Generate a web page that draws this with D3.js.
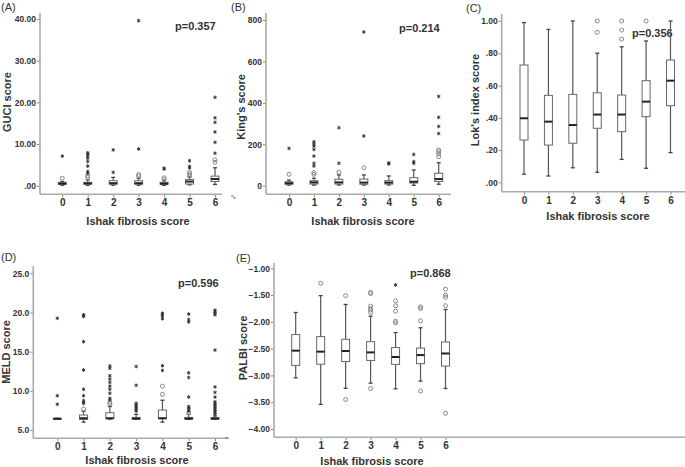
<!DOCTYPE html>
<html><head><meta charset="utf-8">
<script src="https://cdn.jsdelivr.net/npm/d3@7"></script>
<style>
body{margin:0;background:#fff;}
svg{display:block;}
</style></head>
<body><svg id="c" width="685" height="467"></svg>
<script>
const categories = ["0","1","2","3","4","5","6"];

// GUCI score: [lower whisker, Q1, median, Q3, upper whisker]
const guciBoxes = [
 [0.1,0.35,0.5,0.8,1.0],[0.1,0.35,0.55,0.8,1.4],[0.1,0.35,0.6,1.2,2.0],[0.1,0.35,0.6,1.2,1.8],
 [0.1,0.35,0.5,0.8,1.2],[0.2,0.4,1.0,1.5,2.1],[0.3,1.0,1.6,2.3,4.3]];
const guciCircles = [[1.8],[2.0,2.4],[],[2.3,2.7],[1.5,1.9],[2.4,2.8,3.2],[5.6,6.2]];
const guciStars = [[7.1],[7.9,7.6,7.2,6.6,5.8,4.7,3.4,3.0],[8.6,3.2],[39.6,8.8],[4.2,4.0],[6.0,4.6,4.3],[21.2,16.3,15.2,12.9,10.4,7.8]];
const guciTicks = [0,10,20,30,40];

// King's score
const kingBoxes = [
 [3,7,12,19,27],[3,8,16,24,36],[3,8,16,31,52],[3,7,15,32,52],
 [3,8,15,24,47],[2,13,19,39,76],[7,20,32,60,111]];
const kingCircles = [[55],[55,63],[65],[87],[],[],[140,153,164,172]];
const kingStars = [[180],[212,201,191,175,143,108,95],[280,108],[742,240],[110,105],[151,116,108],[431,330,286,252]];
const kingTicks = [0,200,400,600,800];

// Lok's index score
const lokBoxes = [
 [0.05,0.262,0.397,0.727,0.99],[0.039,0.231,0.376,0.539,0.948],[0.09,0.242,0.355,0.545,1.0],
 [0.062,0.335,0.42,0.555,0.80],[0.142,0.314,0.42,0.541,0.84],[0.087,0.407,0.5,0.63,0.876],
 [0.184,0.475,0.63,0.758,1.0]];
const lokCircles = [[],[],[],[1.0,0.93],[1.0,0.944,0.888],[1.0],[]];
const lokStars = [[],[],[],[],[],[],[]];
const lokTicks = [0,0.2,0.4,0.6,0.8,1.0];

// MELD score
const meldBoxes = [
 [6.4,6.4,6.43,6.5,6.5],[6.0,6.36,6.5,6.91,7.4],[6.4,6.45,6.5,7.21,8.0],[6.4,6.4,6.45,6.6,7.0],
 [6.0,6.45,6.5,7.55,8.8],[6.4,6.4,6.45,6.6,7.0],[6.4,6.4,6.45,6.6,6.8]];
const meldCircles = [[],[7.68],[8.53,8.32],[],[10.6,9.55],[7.2],[]];
const meldStars = [[19.26,9.38,8.28],[19.7,19.6,19.5,16.27,12.66,10.19,9.38,8.74,8.53,8.4],
 [13.17,12.87,11.93,11.51,11.08,10.6,10.19,9.68,9.04,8.83],[13.1,10.7,8.4,8.2,8.0,7.8,7.6,7.4],
 [19.9,19.7,19.5,19.2,13.2,12.6],[19.8,19.1,18.8,12.3,11.7,9.2,8.0,7.8,7.6,7.4],
 [20.3,20.1,19.9,19.7,15.2,10.5,9.8,9.2,8.6,8.4,8.2,8.0,7.8,7.6,7.4,7.2,7.0]];
const meldTicks = [5,10,15,20,25];

// PALBI score
const palbiBoxes = [
 [-3.044,-2.8125,-2.5375,-2.2375,-1.825],[-3.54,-2.79,-2.556,-2.275,-1.51],[-3.24,-2.74,-2.544,-2.325,-1.675],
 [-3.144,-2.72,-2.57,-2.37,-1.894],[-3.25,-2.794,-2.656,-2.48,-2.2],[-3.106,-2.78,-2.62,-2.49,-2.11],
 [-3.244,-2.825,-2.59,-2.375,-1.77]];
const palbiCircles = [[],[-1.28],[-1.51,-3.45],[-1.45,-1.47,-1.706,-1.75,-1.78,-1.825,-3.244],
 [-1.61,-1.70,-1.80,-1.99,-2.02],[-1.72,-1.75,-1.98,-3.29],[-1.39,-1.5,-1.54,-1.70,-3.706]];
const palbiStars = [[],[],[],[],[-1.31],[],[]];
const palbiTicks = [-4,-3.5,-3,-2.5,-2,-1.5,-1];

const panelLabels = ["(A)","(B)","(C)","(D)","(E)"];
const yTitles = ["GUCI score","King's score","Lok's index score","MELD score","PALBI score"];
const pValues = ["p=0.357","p=0.214","p=0.356","p=0.596","p=0.868"];
const xTitle = "Ishak fibrosis score";

const svg = d3.select("#c");
svg.append("rect").attr("width",685).attr("height",467).attr("fill","#fff");
const FONT = "'Liberation Sans Narrow','Arial Narrow','Liberation Sans',Arial,sans-serif";

function panel(o){
  const g = svg.append("g");
  const x = d3.scalePoint().domain(categories).range(o.xr);
  const y = d3.scaleLinear().domain(o.yd).range(o.yr);
  // y axis
  const ya = d3.axisLeft(y).tickValues(o.ticks).tickSize(3).tickPadding(1).tickFormat(o.fmt);
  const yg = g.append("g").attr("transform",`translate(${o.ax},0)`).call(ya);
  yg.select(".domain").remove();
  yg.selectAll("line").attr("stroke","#888");
  yg.selectAll("text").attr("font-family",FONT).attr("font-weight","bold").attr("font-size",8.5).attr("fill","#333");
  g.append("line").attr("x1",o.ax).attr("x2",o.ax).attr("y1",o.ytop).attr("y2",o.axy)
    .attr("stroke","#aaa").attr("stroke-width",1.6);
  // x axis
  const xa = d3.axisBottom(x).tickSize(3).tickPadding(2);
  const xg = g.append("g").attr("transform",`translate(0,${o.axy})`).call(xa);
  xg.select(".domain").remove();
  xg.selectAll("line").attr("stroke","#888");
  xg.selectAll("text").attr("font-family",FONT).attr("font-weight","bold").attr("font-size",10).attr("fill","#333");
  g.append("line").attr("x1",o.ax).attr("x2",o.xend).attr("y1",o.axy).attr("y2",o.axy)
    .attr("stroke","#aaa").attr("stroke-width",1.6);
  // titles
  g.append("text").attr("x",o.xtx).attr("y",o.xty).attr("text-anchor","middle")
    .attr("font-family",FONT).attr("font-weight","bold").attr("font-size",11).attr("fill","#333").text(xTitle);
  g.append("text").attr("transform",`translate(${o.ytx},${o.yty}) rotate(-90)`).attr("text-anchor","middle")
    .attr("font-family",FONT).attr("font-weight","bold").attr("font-size",11).attr("fill","#333").text(o.ytitle);
  g.append("text").attr("x",o.lx).attr("y",o.ly).attr("font-family","'Liberation Sans',Arial,sans-serif")
    .attr("font-size",11).attr("fill","#333").text(o.label);
  g.append("text").attr("x",o.px).attr("y",o.py).attr("font-family",FONT).attr("font-weight","bold")
    .attr("font-size",11).attr("fill","#333").text(o.p);
  const bw = 8, cw = 4;
  const items = g.selectAll("g.box").data(o.boxes).join("g").attr("class","box")
    .attr("transform",(d,i)=>`translate(${x(categories[i])},0)`);
  items.append("line").attr("x1",0).attr("x2",0).attr("y1",d=>y(d[0])).attr("y2",d=>y(d[1]))
    .attr("stroke","#555").attr("stroke-width",1.2);
  items.append("line").attr("x1",0).attr("x2",0).attr("y1",d=>y(d[3])).attr("y2",d=>y(d[4]))
    .attr("stroke","#555").attr("stroke-width",1.2);
  items.append("line").attr("x1",-cw/2).attr("x2",cw/2).attr("y1",d=>y(d[0])).attr("y2",d=>y(d[0]))
    .attr("stroke","#444").attr("stroke-width",1.3);
  items.append("line").attr("x1",-cw/2).attr("x2",cw/2).attr("y1",d=>y(d[4])).attr("y2",d=>y(d[4]))
    .attr("stroke","#444").attr("stroke-width",1.3);
  items.append("rect").attr("x",-bw/2).attr("width",bw).attr("y",d=>y(d[3]))
    .attr("height",d=>Math.max(0.5,y(d[1])-y(d[3]))).attr("fill","#fff").attr("stroke","#666").attr("stroke-width",1);
  items.append("line").attr("x1",-bw/2).attr("x2",bw/2).attr("y1",d=>y(d[2])).attr("y2",d=>y(d[2]))
    .attr("stroke","#222").attr("stroke-width",2);
  const circ = [], star = [];
  o.circles.forEach((a,i)=>a.forEach(v=>circ.push([categories[i],v])));
  o.stars.forEach((a,i)=>a.forEach(v=>star.push([categories[i],v])));
  g.selectAll("circle.o").data(circ).join("circle").attr("class","o")
    .attr("cx",d=>x(d[0])).attr("cy",d=>y(d[1])).attr("r",2)
    .attr("fill","none").attr("stroke","#888").attr("stroke-width",1);
  const sym = d3.symbol(d3.symbolAsterisk, 9);
  g.selectAll("path.s").data(star).join("path").attr("class","s")
    .attr("transform",d=>`translate(${x(d[0])},${y(d[1])})`).attr("d",sym)
    .attr("stroke","#333").attr("stroke-width",1).attr("fill","none");
}

const f2 = d => d===0 ? ".00" : d.toFixed(2);
panel({xr:[62.3,215], yd:[0,40], yr:[185.7,19], ticks:guciTicks, fmt:f2, ax:40, axy:194.3, ytop:13, xend:222,
  boxes:guciBoxes, circles:guciCircles, stars:guciStars, xtx:138, xty:225, ytx:11, yty:102, ytitle:yTitles[0],
  lx:1, ly:11, label:panelLabels[0], px:175, py:30, p:pValues[0]});
panel({xr:[289,438.7], yd:[0,800], yr:[185.7,20], ticks:kingTicks, fmt:d3.format("d"), ax:266, axy:194.3, ytop:13, xend:451,
  boxes:kingBoxes, circles:kingCircles, stars:kingStars, xtx:363, xty:225, ytx:245, yty:107, ytitle:yTitles[1],
  lx:231, ly:11, label:panelLabels[1], px:399, py:32, p:pValues[1]});
panel({xr:[524,670.5], yd:[0,1], yr:[182.3,21], ticks:lokTicks, fmt:d=>d.toFixed(2).replace(/^0/,""), ax:501.7, axy:191.7, ytop:14, xend:685,
  boxes:lokBoxes, circles:lokCircles, stars:lokStars, xtx:598, xty:220, ytx:479, yty:100, ytitle:yTitles[2],
  lx:466, ly:12, label:panelLabels[2], px:632, py:37, p:pValues[2]});
panel({xr:[57.3,215], yd:[5,25], yr:[430,273.3], ticks:meldTicks, fmt:d3.format(".1f"), ax:33.3, axy:438.3, ytop:266, xend:229,
  boxes:meldBoxes, circles:meldCircles, stars:meldStars, xtx:137, xty:464, ytx:10, yty:352, ytitle:yTitles[3],
  lx:1, ly:261, label:panelLabels[3], px:178, py:287, p:pValues[3]});
panel({xr:[295.7,445.5], yd:[-4,-1], yr:[429,268.3], ticks:palbiTicks, fmt:d3.format(".2f"), ax:274, axy:437.3, ytop:263, xend:685,
  boxes:palbiBoxes, circles:palbiCircles, stars:palbiStars, xtx:372, xty:465, ytx:247, yty:348, ytitle:yTitles[4],
  lx:236, ly:262, label:panelLabels[4], px:410, py:277, p:pValues[4]});

// stray dashes present in the figure
[[231,196],[233,198],[225,438]].forEach(p=>svg.append("line").attr("x1",p[0]).attr("x2",p[0]+3)
  .attr("y1",p[1]).attr("y2",p[1]).attr("stroke","#777").attr("stroke-width",1));
</script></body></html>
